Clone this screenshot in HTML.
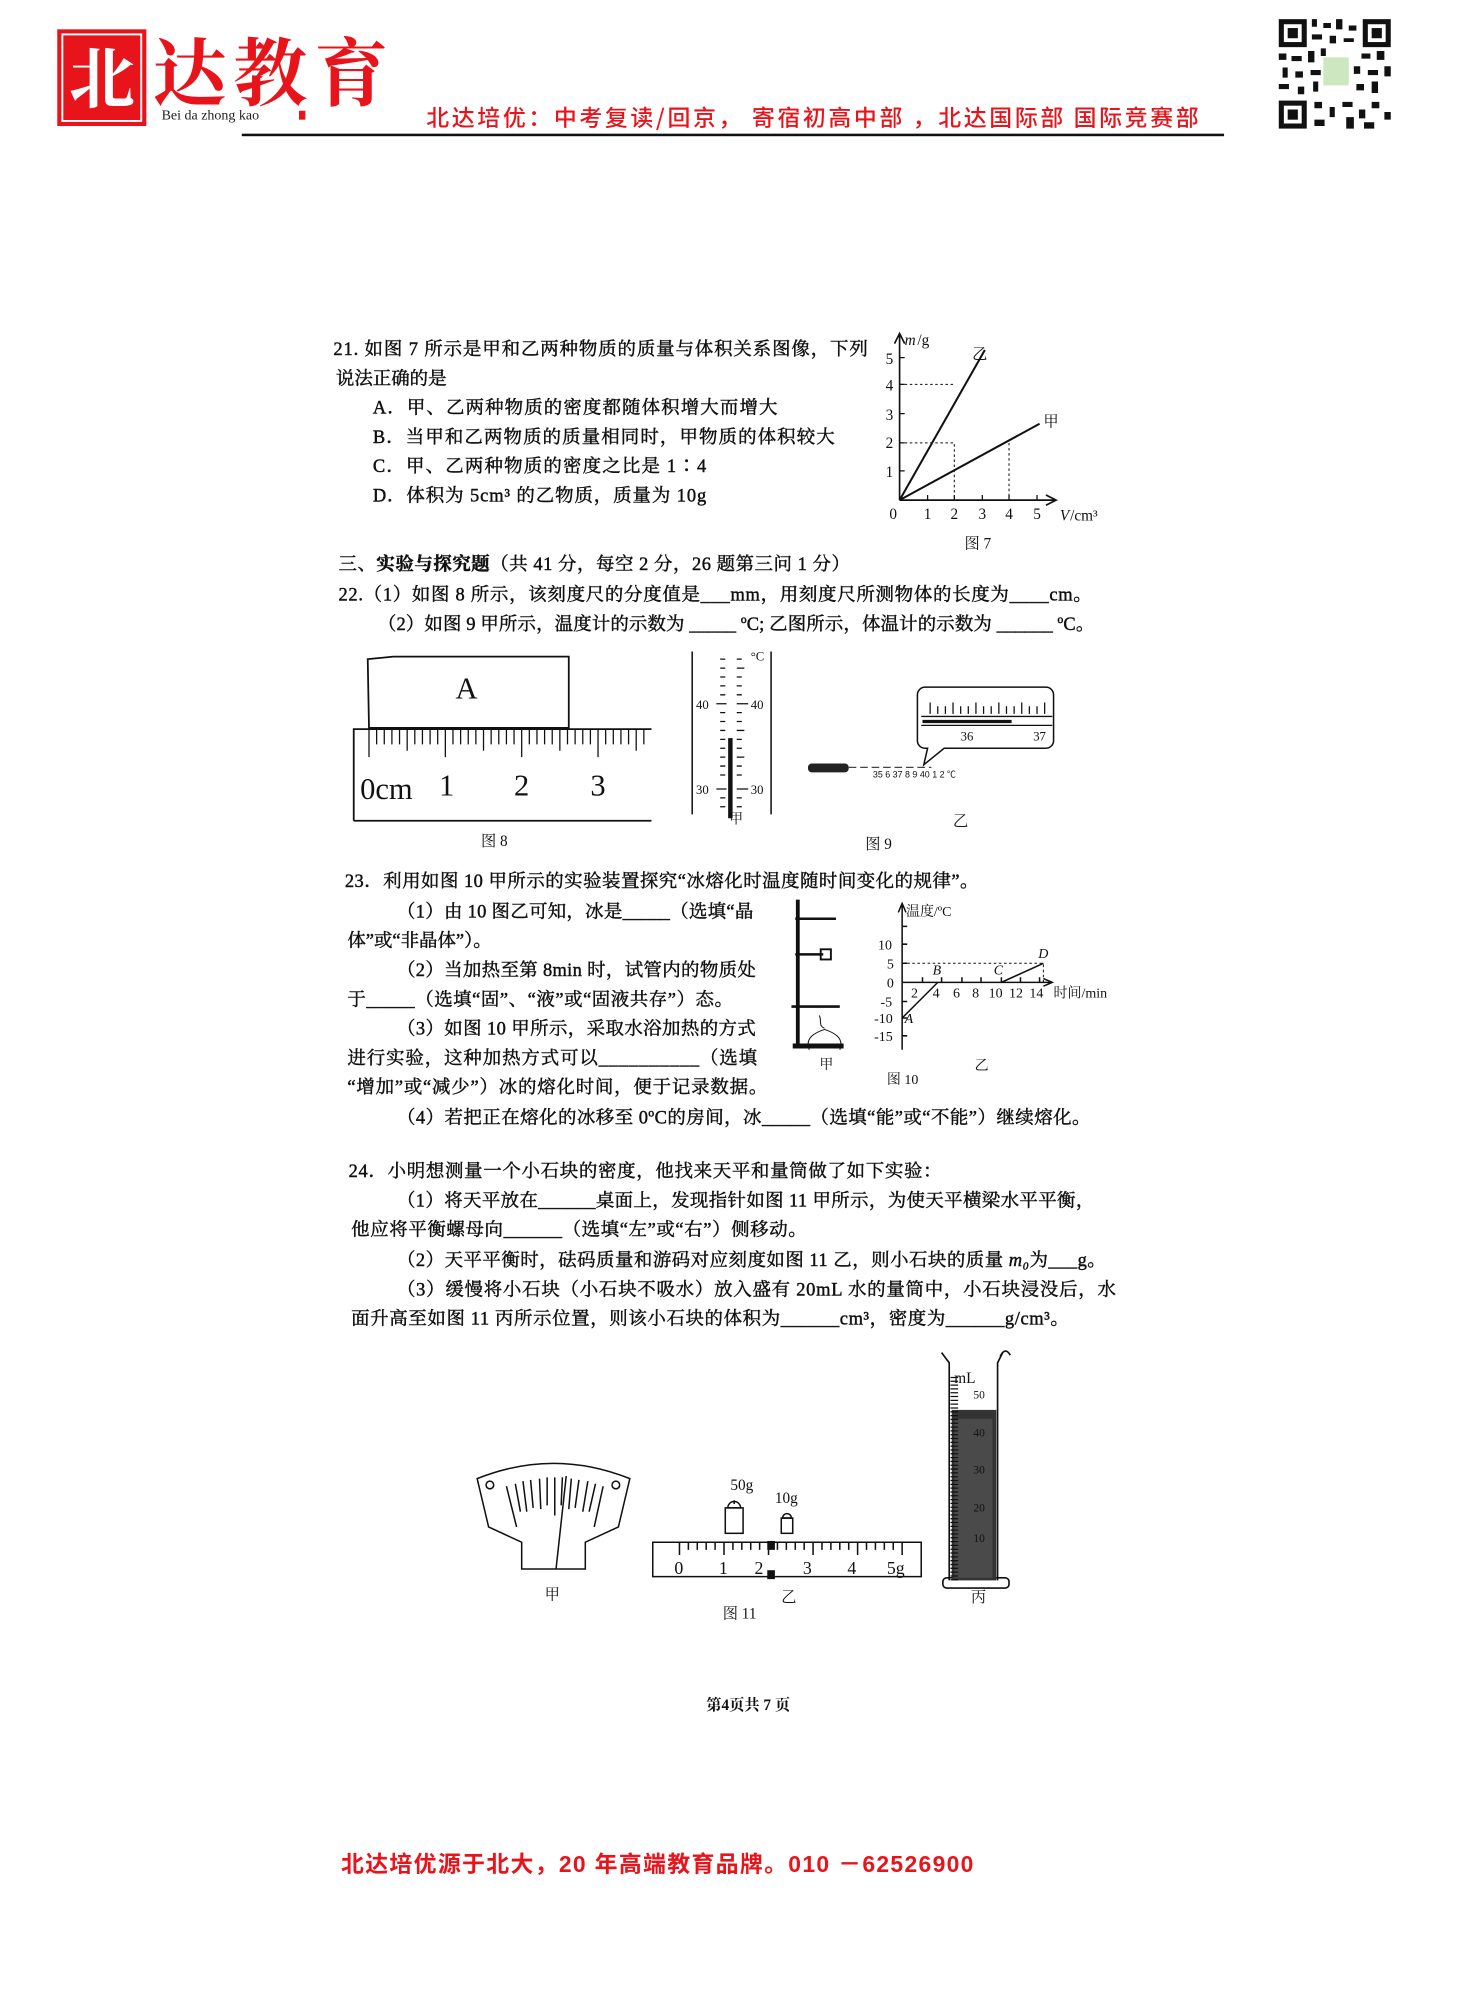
<!DOCTYPE html>
<html><head><meta charset="utf-8"><style>
html,body{margin:0;padding:0;background:#fff;}
svg{display:block}
text{font-family:"Liberation Serif","Noto Serif CJK SC","Noto Sans CJK SC",serif;fill:#111;}
.s{font-family:"Liberation Sans","Noto Sans CJK SC",sans-serif;}
.t text{stroke:#111;stroke-width:0.35px;}
.t{font-size:14.5px;}
.r{fill:#e8141b;font-family:"Liberation Sans","Noto Sans CJK SC",sans-serif;font-weight:bold;}
</style></head><body>
<svg width="1476" height="2008" viewBox="0 0 1160 1578" xmlns="http://www.w3.org/2000/svg">
<rect width="1160" height="1578" fill="#fff"/>
<!-- header -->
<rect x="45" y="23" width="70" height="76" fill="#e8141b"/>
<rect x="49" y="27" width="62" height="68" fill="none" stroke="#fff" stroke-width="1.5"/>
<text x="80" y="80" font-size="52" text-anchor="middle" style="fill:#fff;font-family:'Noto Serif CJK SC',serif;font-weight:bold">北</text>
<text x="120" y="78" font-size="58" textLength="185" style="fill:#e8141b;font-family:'Noto Serif CJK SC',serif;font-weight:bold">达教育</text>
<text x="127" y="94" font-size="11" style="fill:#222">Bei da zhong kao</text>
<rect x="235" y="87" width="5" height="7" fill="#e8141b"/>
<text x="335" y="99" font-size="18" textLength="607" style="fill:#e8141b;font-family:'Noto Sans CJK SC',sans-serif;font-weight:500">北达培优：中考复读/回京， 寄宿初高中部 ，北达国际部 国际竞赛部</text>
<rect x="190" y="105" width="772" height="2" fill="#111"/>
<g fill="#111">
<rect x="1005" y="15" width="88" height="86" fill="#fff"/>
<rect x="1005" y="15" width="22" height="22"/><rect x="1009" y="19" width="14" height="14" fill="#fff"/><rect x="1012" y="22" width="8" height="8"/>
<rect x="1071" y="15" width="22" height="22"/><rect x="1075" y="19" width="14" height="14" fill="#fff"/><rect x="1078" y="22" width="8" height="8"/>
<rect x="1005" y="79" width="22" height="22"/><rect x="1009" y="83" width="14" height="14" fill="#fff"/><rect x="1012" y="86" width="8" height="8"/>
<path d="M1031 15h4v6h-4zM1040 18h6v4h-6zM1050 15h5v8h-5zM1060 20h6v4h-6zM1031 27h8v4h-8zM1045 28h5v6h-5zM1056 30h8v3h-8zM1005 42h6v5h-6zM1015 44h8v4h-8zM1028 40h5v9h-5zM1038 38h4v6h-4zM1070 42h7v4h-7zM1082 40h6v7h-6zM1008 53h4v8h-4zM1018 56h6v5h-6zM1030 55h8v4h-8zM1064 52h5v6h-5zM1075 55h8v4h-8zM1088 52h5v8h-5zM1005 66h8v4h-8zM1020 68h5v6h-5zM1032 64h4v8h-4zM1066 66h6v5h-6zM1078 64h5v9h-5zM1033 80h6v5h-6zM1045 84h4v8h-4zM1055 80h8v4h-8zM1068 86h5v7h-5zM1078 80h6v5h-6zM1088 88h5v6h-5zM1033 94h8v5h-8zM1058 92h6v9h-6zM1072 96h8v5h-8z"/>
<rect x="1040" y="45" width="20" height="22" fill="#cde8c0"/>
</g>
<!-- Q21 -->
<g class="t">
<text x="262" y="279" textLength="420">21. 如图 7 所示是甲和乙两种物质的质量与体积关系图像，下列</text>
<text x="264" y="302">说法正确的是</text>
<text x="293" y="325" textLength="318">A．甲、乙两种物质的密度都随体积增大而增大</text>
<text x="293" y="348" textLength="363">B．当甲和乙两物质的质量相同时，甲物质的体积较大</text>
<text x="293" y="371" textLength="262">C．甲、乙两种物质的密度之比是 1∶4</text>
<text x="293" y="394" textLength="262">D．体积为 5cm³ 的乙物质，质量为 10g</text>
</g>
<!-- Fig 7 -->
<g stroke="#111" fill="none">
<path d="M707 393V262M703 270l4-8 4 8" stroke-width="1.3"/>
<path d="M707 393H830M822 389l8 4-8 4" stroke-width="1.3"/>
<path d="M707 393L774 275M707 393L817 333" stroke-width="1.6"/>
<path d="M707 302h42M707 348h43v45M793 348v45" stroke-dasharray="2 2" stroke-width="0.8"/>
<path d="M707 370h4M707 348h4M707 325h4M707 302h4M707 281h4M729 393v-4M750 393v-4M772 393v-4M793 393v-4M815 393v-4"/>
</g>
<g font-size="12">
<text x="711" y="271" font-style="italic">m</text><text x="721" y="271">/g</text>
<text x="696" y="286">5</text><text x="696" y="307">4</text><text x="696" y="330">3</text><text x="696" y="352">2</text><text x="696" y="375">1</text>
<text x="699" y="408">0</text><text x="726" y="408">1</text><text x="747" y="408">2</text><text x="769" y="408">3</text><text x="790" y="408">4</text><text x="812" y="408">5</text>
<text x="833" y="409" font-style="italic">V</text><text x="841" y="409">/cm³</text>
<text x="764" y="282">乙</text><text x="820" y="335">甲</text>
<text x="758" y="431">图 7</text>
</g>
<!-- section 3 / Q22 -->
<g class="t">
<text x="266" y="448" textLength="402">三、<tspan font-weight="bold">实验与探究题</tspan>（共 41 分，每空 2 分，26 题第三问 1 分）</text>
<text x="266" y="472" textLength="592">22.（1）如图 8 所示，该刻度尺的分度值是___mm，用刻度尺所测物体的长度为____cm。</text>
<text x="297" y="495" textLength="563">（2）如图 9 甲所示，温度计的示数为 _____ ºC; 乙图所示，体温计的示数为 ______ ºC。</text>
</g>
<!-- Fig 8 -->
<g stroke="#111" fill="none" stroke-width="1.4">
<path d="M289 518l20-2h138v56H290z"/>
<path d="M278 645V573h234M278 645h234"/>
</g>
<g stroke="#111" stroke-width="1">
<path d="M290 573v22M296 573v12M302 573v12M308 573v12M314 573v12M320 573v17M326 573v12M332 573v12M338 573v12M344 573v12M350 573v22M356 573v12M362 573v12M368 573v12M374 573v12M380 573v17M386 573v12M392 573v12M398 573v12M404 573v12M410 573v22M416 573v12M422 573v12M428 573v12M434 573v12M440 573v17M446 573v12M452 573v12M458 573v12M464 573v12M470 573v22M476 573v12M482 573v12M488 573v12M494 573v12M500 573v17M506 573v12"/>
</g>
<g font-size="24"><text x="358" y="549">A</text><text x="283" y="628">0cm</text><text x="345" y="625">1</text><text x="404" y="625">2</text><text x="464" y="625">3</text></g>
<text x="378" y="665" font-size="12">图 8</text>
<!-- Fig 9 甲 -->
<g stroke="#111" fill="none">
<path d="M544 512v128M606 512v128" stroke-width="1.2"/>
<path d="M574 580v63" stroke-width="3.5"/>
<path d="M566 518h4M566 525h4M566 532h4M566 539h4M566 546h4M563 553h8M566 560h4M566 567h4M566 574h4M566 581h4M566 588h4M566 595h4M566 602h4M566 609h4M563 620h8M566 627h4M566 634h4M579 518h4M579 525h6M579 532h4M579 539h4M579 546h4M579 553h9M579 560h4M579 567h4M579 574h6M579 581h4M579 588h4M579 595h6M579 602h4M579 609h4M579 620h9M579 627h4M579 634h4"/>
</g>
<g font-size="10" class="s"><text x="547" y="557">40</text><text x="590" y="557">40</text><text x="547" y="624">30</text><text x="590" y="624">30</text><text x="590" y="519">°C</text></g>
<text x="573" y="647" font-size="11">甲</text>
<!-- Fig 9 乙 -->
<path d="M727 540h95a6 6 0 0 1 6 6v36a6 6 0 0 1-6 6h-80l-16 13 3-13h-2a6 6 0 0 1-6-6v-36a6 6 0 0 1 6-6z" fill="none" stroke="#111" stroke-width="1.2"/>
<path d="M724 563h103M724 570h103" stroke="#111"/>
<path d="M725 567h70" stroke="#111" stroke-width="2.5"/>
<path d="M731 552v9M737 555v6M743 555v6M749 552v9M755 555v6M761 555v6M767 552v9M773 555v6M779 555v6M785 552v9M791 555v6M797 555v6M803 552v9M809 555v6M815 555v6M821 552v9" stroke="#111"/>
<g font-size="10" class="s"><text x="755" y="582">36</text><text x="812" y="582">37</text></g>
<rect x="635" y="600" width="32" height="7" rx="3" fill="#222"/>
<path d="M667 603h65" stroke="#444" stroke-dasharray="6 3"/>
<text x="686" y="611" font-size="7" fill="#555" class="s">35  6  37  8  9  40  1  2 ℃</text>
<text x="749" y="649" font-size="12">乙</text>
<text x="680" y="667" font-size="12">图 9</text>
<!-- Q23 -->
<g class="t">
<text x="271" y="697" textLength="498">23．利用如图 10 甲所示的实验装置探究“冰熔化时温度随时间变化的规律”。</text>
<text x="312" y="721" textLength="280">（1）由 10 图乙可知，冰是_____（选填“晶</text>
<text x="273" y="744">体”或“非晶体”）。</text>
<text x="312" y="767" textLength="282">（2）当加热至第 8min 时，试管内的物质处</text>
<text x="273" y="790" textLength="303">于_____（选填“固”、“液”或“固液共存”）态。</text>
<text x="312" y="813" textLength="282">（3）如图 10 甲所示，采取水浴加热的方式</text>
<text x="273" y="836" textLength="322">进行实验，这种加热方式可以__________（选填</text>
<text x="273" y="859" textLength="330">“增加”或“减少”）冰的熔化时间，便于记录数据。</text>
<text x="312" y="883" textLength="545">（4）若把正在熔化的冰移至 0ºC的房间，冰_____（选填“能”或“不能”）继续熔化。</text>
</g>
<!-- Fig 10 甲 -->
<g stroke="#111" fill="none">
<path d="M627 707v115" stroke-width="3"/>
<path d="M623 822h40" stroke-width="4"/>
<path d="M625 722h32M625 750h22M622 791h38" stroke-width="2"/>
<rect x="645" y="746" width="8" height="8" stroke-width="1.5"/>
<path d="M644 798c2 5-1 8 4 10M636 825c-4-10 6-14 12-16c6 2 16 6 12 16" stroke-width="0.8"/>
</g>
<text x="644" y="840" font-size="11">甲</text>
<!-- Fig 10 乙 -->
<g stroke="#111" fill="none" stroke-width="1.2">
<path d="M709 825V710M706 717l3-7 3 7"/>
<path d="M709 772H827M820 769l7 3-7 3"/>
<path d="M709 800L737 772M787 772L820 757"/>
<path d="M709 757h111v15" stroke-dasharray="2 2" stroke-width="0.8"/>
<path d="M709 742h4M709 757h4M709 787h4M709 800h4M709 814h4M709 728h4M725 772v-4M740 772v-4M756 772v-4M771 772v-4M787 772v-4M802 772v-4M817 772v-4"/>
</g>
<g font-size="11">
<text x="712" y="720">温度/ºC</text>
<text x="690" y="746">10</text><text x="697" y="761">5</text><text x="697" y="776">0</text><text x="692" y="791">-5</text><text x="687" y="804">-10</text><text x="687" y="818">-15</text>
<text x="716" y="784">2</text><text x="733" y="784">4</text><text x="749" y="784">6</text><text x="764" y="784">8</text><text x="777" y="784">10</text><text x="793" y="784">12</text><text x="809" y="784">14</text>
<text x="828" y="784">时间/min</text>
<g font-style="italic"><text x="733" y="766">B</text><text x="781" y="766">C</text><text x="816" y="753">D</text><text x="711" y="804">A</text></g>
<text x="766" y="841">乙</text>
<text x="697" y="852">图 10</text>
</g>
<!-- Q24 -->
<g class="t">
<text x="274" y="925" textLength="466">24．小明想测量一个小石块的密度，他找来天平和量筒做了如下实验：</text>
<text x="312" y="948" textLength="548">（1）将天平放在______桌面上，发现指针如图 11 甲所示，为使天平横梁水平平衡，</text>
<text x="276" y="971" textLength="358">他应将平衡螺母向______（选填“左”或“右”）侧移动。</text>
<text x="312" y="995" textLength="557">（2）天平平衡时，砝码质量和游码对应刻度如图 11 乙，则小石块的质量 <tspan font-style="italic">m₀</tspan>为___g。</text>
<text x="312" y="1018" textLength="565">（3）缓慢将小石块（小石块不吸水）放入盛有 20mL 水的量筒中，小石块浸没后，水</text>
<text x="276" y="1041" textLength="564">面升高至如图 11 丙所示位置，则该小石块的体积为______cm³，密度为______g/cm³。</text>
</g>
<!-- Fig 11 甲 -->
<g stroke="#111" fill="none" stroke-width="1.2">
<path d="M375 1162Q435 1138 495 1162L486 1200L460 1212V1233H410V1212L384 1200Z"/>
<circle cx="385" cy="1167" r="3"/><circle cx="484" cy="1167" r="3"/>
<path d="M398 1168l8 32M405 1166l4 22M411 1164l3 24M417 1163l2 22M424 1162l1 24M430 1161l0 22M436 1161l0 30M442 1161l-1 22M449 1162l-2 24M455 1163l-3 22M462 1164l-4 24M468 1166l-5 22M474 1168l-7 32M437 1233l8-73"/>
</g>
<text x="428" y="1257" font-size="12">甲</text>
<!-- Fig 11 乙 -->
<g stroke="#111" fill="none" stroke-width="1.2">
<path d="M513 1212h211v27H513z"/>
<rect x="570" y="1185" width="14" height="20"/><path d="M572 1185a5 5 0 0 1 10 0zM577 1179v3"/>
<rect x="614" y="1193" width="9" height="12"/><path d="M615 1193a3.5 3.5 0 0 1 7 0z"/>
<path d="M534 1212v10M541 1212v6M548 1212v6M555 1212v6M562 1212v6M569 1212v10M576 1212v6M583 1212v6M590 1212v6M597 1212v6M604 1212v10M611 1212v6M618 1212v6M625 1212v6M632 1212v6M639 1212v10M646 1212v6M653 1212v6M660 1212v6M667 1212v6M674 1212v10M681 1212v6M688 1212v6M695 1212v6M702 1212v6M709 1212v10"/>
</g>
<rect x="603" y="1211" width="6" height="7" fill="#111"/><rect x="603" y="1234" width="6" height="7" fill="#111"/>
<g font-size="14"><text x="530" y="1237">0</text><text x="565" y="1237">1</text><text x="593" y="1237">2</text><text x="631" y="1237">3</text><text x="666" y="1237">4</text><text x="697" y="1237">5g</text></g>
<g font-size="12"><text x="574" y="1171">50g</text><text x="609" y="1181">10g</text><text x="614" y="1259">乙</text><text x="568" y="1272">图 11</text></g>
<!-- Fig 11 丙 -->
<g stroke="#111" fill="none" stroke-width="1.3">
<path d="M740 1063l6 8V1242M788 1063l-4 8V1242"/>
<rect x="741" y="1240" width="52" height="8" rx="3"/>
<path d="M786 1066q4-8 8-1"/>
</g>
<rect x="748" y="1108" width="35" height="134" fill="#333"/>
<rect x="750" y="1115" width="30" height="125" fill="#4a4a4a"/>
<path d="M750 1082v160" stroke="#111" stroke-dasharray="1 2" stroke-width="6"/>
<g font-size="9" class="s"><text x="765" y="1099">50</text><text x="765" y="1129" fill="#ccc">40</text><text x="765" y="1158" fill="#ccc">30</text><text x="765" y="1188" fill="#ccc">20</text><text x="765" y="1212" fill="#ccc">10</text></g>
<text x="750" y="1087" font-size="12">mL</text>
<text x="763" y="1259" font-size="12">丙</text>
<!-- page footer -->
<text x="588" y="1344" font-size="12" text-anchor="middle" font-weight="bold">第4页共 7 页</text>
<text x="268" y="1471" font-size="18" class="r" textLength="497">北达培优源于北大，20 年高端教育品牌。010 －62526900</text>
</svg>
</body></html>
